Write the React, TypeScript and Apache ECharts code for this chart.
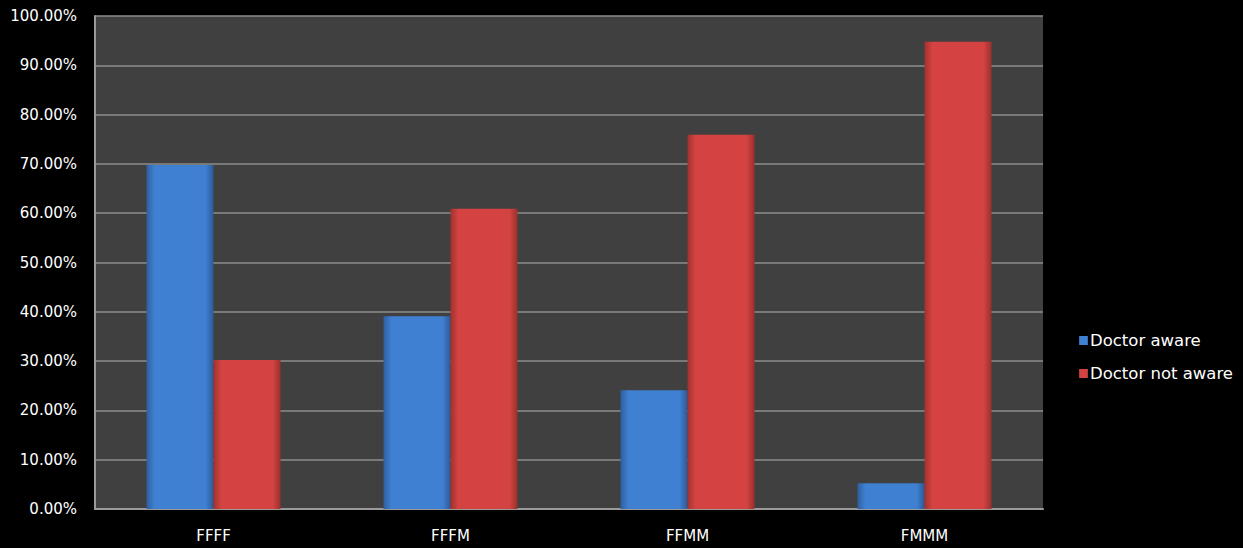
import React, { useEffect, useRef } from "react";
import * as echarts from "echarts";

const categories = ["FFFF", "FFFM", "FFMM", "FMMM"];
const doctorAware = [69.8, 39.1, 24.1, 5.2];
const doctorNotAware = [30.2, 60.9, 75.9, 94.8];
const seriesNames = ["Doctor aware", "Doctor not aware"];

const grad = (c1: string, c2: string, c3: string) =>
  new echarts.graphic.LinearGradient(0, 0, 1, 0, [
    { offset: 0, color: c1 },
    { offset: 0.12, color: c2 },
    { offset: 0.88, color: c2 },
    { offset: 1, color: c3 },
  ]);

export default function App() {
  const ref = useRef<HTMLDivElement>(null);
  useEffect(() => {
    if (!ref.current) return;
    const chart = echarts.init(ref.current, undefined, { renderer: "svg" });
    const font = "'DejaVu Sans', sans-serif";
    chart.setOption({
      animation: false,
      backgroundColor: "#000000",
      grid: {
        left: 95,
        right: 200,
        top: 16,
        bottom: 39,
        show: true,
        backgroundColor: "#404040",
        borderWidth: 0,
      },
      legend: {
        orient: "vertical",
        left: 1074,
        top: 327,
        itemWidth: 9,
        itemHeight: 9,
        itemGap: 16,
        itemStyle: { borderWidth: 0 },
        icon: "rect",
        textStyle: { color: "#ffffff", fontSize: 16.5, fontFamily: font, padding: [0, 0, 0, -3] },
        data: seriesNames,
      },
      xAxis: {
        type: "category",
        data: categories,
        axisLine: { show: true, lineStyle: { color: "#9a9a9a", width: 2 } },
        axisTick: { show: false },
        axisLabel: { color: "#ffffff", fontSize: 15, fontFamily: font, margin: 19 },
      },
      yAxis: {
        type: "value",
        min: 0,
        max: 100,
        interval: 10,
        axisLine: { show: true, lineStyle: { color: "#9a9a9a", width: 2 } },
        axisTick: { show: false },
        splitLine: { show: true, lineStyle: { color: "#8c8c8c", width: 1.5 } },
        axisLabel: {
          color: "#ffffff",
          fontSize: 15,
          fontFamily: font,
          margin: 18,
          formatter: (v: number) => v.toFixed(2) + "%",
        },
      },
      series: [
        {
          name: seriesNames[0],
          type: "bar",
          data: doctorAware,
          barWidth: 67,
          barGap: "0%",
          itemStyle: {
            color: grad("#2f5f9e", "#3f80d3", "#2d5a96"),
          },
        },
        {
          name: seriesNames[1],
          type: "bar",
          data: doctorNotAware,
          barWidth: 67,
          barGap: "0%",
          itemStyle: {
            color: grad("#a03230", "#d44341", "#9a302e"),
          },
        },
      ],
    });
    return () => chart.dispose();
  }, []);
  return (
    <div
      ref={ref}
      style={{ position: "fixed", left: 0, top: 0, width: 1243, height: 548 }}
    />
  );
}
